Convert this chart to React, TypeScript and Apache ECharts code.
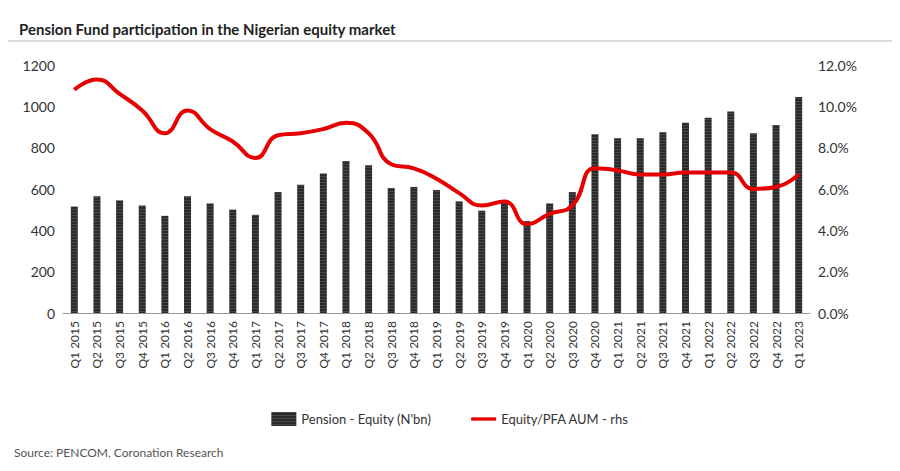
import { useEffect, useRef } from "react";
import * as echarts from "echarts";

const quarters: string[] = [];
for (let y = 2015; y <= 2023; y++) {
  for (let q = 1; q <= 4; q++) {
    if (y === 2023 && q > 1) break;
    quarters.push(`Q${q} ${y}`);
  }
}

const pensionEquity = [
  515, 565, 545, 520, 470, 565, 530, 500, 475, 585, 620, 675, 735, 715, 605, 610,
  595, 540, 495, 545, 445, 530, 585, 865, 845, 845, 875, 920, 945, 975, 870, 910, 1045,
];

const equityShare = [
  10.8, 11.3, 10.6, 9.8, 8.7, 9.8, 8.9, 8.3, 7.5, 8.6, 8.7, 8.9, 9.2, 8.7, 7.2, 7.0,
  6.5, 5.8, 5.2, 5.4, 4.3, 4.8, 5.2, 7.0, 6.9, 6.7, 6.7, 6.8, 6.8, 6.8, 6.0, 6.1, 6.7,
];

export default function App() {
  const chartRef = useRef<HTMLDivElement>(null);

  useEffect(() => {
    if (!chartRef.current) return;
    const chart = echarts.init(chartRef.current, undefined, { renderer: "svg" });

    const font = "Lato, sans-serif";
    chart.setOption({
      animation: false,
      textStyle: { fontFamily: font },
      title: {
        text: "Pension Fund participation in the Nigerian equity market",
        left: 6,
        top: 8,
        textStyle: { fontSize: 15, fontWeight: "bold", color: "#222", fontFamily: font },
      },
      graphic: [
        { type: "line", shape: { x1: 0, y1: 33, x2: 900, y2: 33 }, style: { stroke: "#bbb", lineWidth: 1 } },
        {
          type: "text",
          left: 6,
          top: 438,
          style: { text: "Source: PENCOM, Coronation Research", fontSize: 12, fill: "#555", fontFamily: font },
        },
      ],
      legend: {
        bottom: 32,
        left: "center",
        itemGap: 40,
        textStyle: { fontSize: 13, color: "#333" },
        data: [
          { name: "Pension - Equity (N'bn)", icon: "rect" },
          { name: "Equity/PFA AUM - rhs", icon: "path://M0,0 L30,0 L30,4 L0,4 Z" },
        ],
      },
      grid: { left: 55, right: 82, top: 57, bottom: 150 },
      xAxis: {
        type: "category",
        data: quarters,
        axisTick: { show: false },
        axisLine: { lineStyle: { color: "#999" } },
        axisLabel: { rotate: 90, interval: 0, fontSize: 12, color: "#333" },
      },
      yAxis: [
        {
          type: "value",
          min: 0,
          max: 1200,
          interval: 200,
          axisLabel: { fontSize: 14, color: "#333", formatter: (v: number) => String(v) },
          splitLine: { show: false },
        },
        {
          type: "value",
          min: 0,
          max: 12,
          interval: 2,
          axisLabel: { fontSize: 14, color: "#333", formatter: (v: number) => v.toFixed(1) + "%" },
          splitLine: { show: false },
        },
      ],
      series: [
        {
          name: "Pension - Equity (N'bn)",
          type: "bar",
          data: pensionEquity,
          barWidth: 7,
          itemStyle: {
            color: "#2b2b2b",
            decal: {
              symbol: "rect",
              symbolSize: 0.6,
              color: "rgba(255,255,255,0.45)",
              dashArrayX: [2, 0],
              dashArrayY: [1, 2],
              rotation: 0,
            },
          },
        },
        {
          name: "Equity/PFA AUM - rhs",
          type: "line",
          yAxisIndex: 1,
          data: equityShare,
          smooth: true,
          showSymbol: false,
          lineStyle: { color: "#e60000", width: 4 },
          itemStyle: { color: "#e60000" },
        },
      ],
    });

    return () => chart.dispose();
  }, []);

  return <div ref={chartRef} style={{ width: 884, height: 455 }} />;
}
